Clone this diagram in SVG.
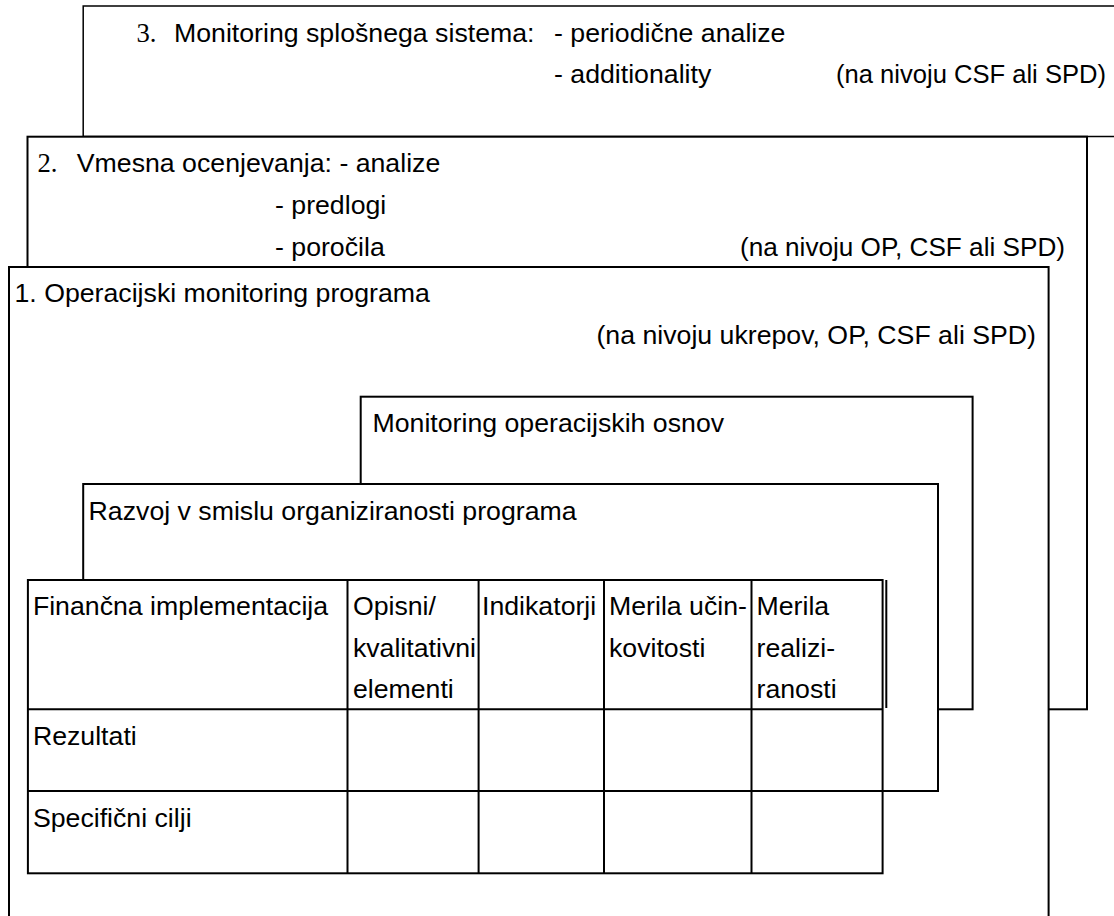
<svg xmlns="http://www.w3.org/2000/svg" width="1114" height="916" viewBox="0 0 1114 916">
<style>
.box{fill:#fff;stroke:#000;stroke-width:2}
.thin{fill:#fff;stroke:#000;stroke-width:1.5}
.ln{stroke:#000;stroke-width:2;fill:none}
text{font-family:"Liberation Sans",Arial,sans-serif;font-size:26.7px;fill:#000}
.serif{font-family:"Liberation Serif","Times New Roman",serif}
</style>
<rect width="1114" height="916" fill="#fff"/>
<g id="box3">
<rect class="thin" x="83.2" y="6" width="1040" height="130.5"/>
<text x="136.5" y="41.5"><tspan class="serif">3.</tspan></text>
<text x="174" y="41.5">Monitoring splošnega sistema:</text>
<text x="554" y="41.5">- periodične analize</text>
<text x="554" y="83">- additionality</text>
<text x="836" y="83" font-size="26" textLength="270" lengthAdjust="spacingAndGlyphs">(na nivoju CSF ali SPD)</text>
</g>
<g id="box2">
<rect class="box" x="27.5" y="136.7" width="1059.5" height="572.6"/>
<text x="37.5" y="172"><tspan class="serif">2.</tspan></text>
<text x="76.8" y="172">Vmesna ocenjevanja: - analize</text>
<text x="275" y="213.5">- predlogi</text>
<text x="275" y="255.5">- poročila</text>
<text x="740" y="255.5" textLength="325" lengthAdjust="spacingAndGlyphs">(na nivoju OP, CSF ali SPD)</text>
</g>
<g id="box1">
<rect class="box" x="9" y="267" width="1039.6" height="680"/>
<text x="14.5" y="302">1. Operacijski monitoring programa</text>
<text x="1036" y="343.5" text-anchor="end">(na nivoju ukrepov, OP, CSF ali SPD)</text>
</g>
<g id="monitoring-osnov">
<rect class="box" x="360.7" y="396.7" width="611.9" height="312.6"/>
<text x="372.5" y="432">Monitoring operacijskih osnov</text>
</g>
<g id="razvoj">
<rect class="box" x="83.2" y="484" width="854.8" height="307"/>
<text x="88.6" y="520">Razvoj v smislu organiziranosti programa</text>
</g>
<g id="table">
<rect class="box" x="27.9" y="580" width="854.7" height="293.3"/>
<line class="ln" x1="886.3" y1="580" x2="886.3" y2="708"/>
<line class="ln" x1="27.9" y1="709.3" x2="882.6" y2="709.3"/>
<line class="ln" x1="27.9" y1="791" x2="882.6" y2="791"/>
<line class="ln" x1="347.5" y1="580" x2="347.5" y2="873.3"/>
<line class="ln" x1="478.6" y1="580" x2="478.6" y2="873.3"/>
<line class="ln" x1="604" y1="580" x2="604" y2="873.3"/>
<line class="ln" x1="751.5" y1="580" x2="751.5" y2="873.3"/>
<text x="32.9" y="615">Finančna implementacija</text>
<text x="352.9" y="615">Opisni/</text>
<text x="352.9" y="656.7">kvalitativni</text>
<text x="352.9" y="698.3">elementi</text>
<text x="482" y="615">Indikatorji</text>
<text x="609" y="615">Merila učin-</text>
<text x="609" y="656.7">kovitosti</text>
<text x="756.5" y="615">Merila</text>
<text x="756.5" y="656.7">realizi-</text>
<text x="756.5" y="698.3">ranosti</text>
<text x="32.9" y="745">Rezultati</text>
<text x="32.9" y="827">Specifični cilji</text>
</g>
<g id="connectors"/>
</svg>
